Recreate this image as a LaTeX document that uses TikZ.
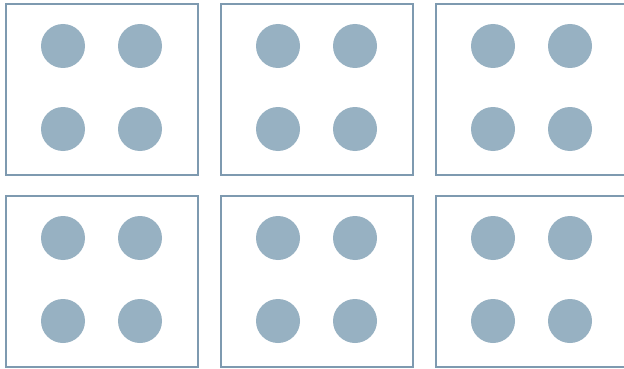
\documentclass[tikz,border=0pt]{standalone}
\definecolor{frame}{HTML}{7E9AB0}
\definecolor{dot}{HTML}{97B1C2}
\tikzset{
  cell/.style={draw=frame, line width=2pt, fill=white, minimum width=192pt, minimum height=171pt, inner sep=0pt, anchor=north west},
  blob/.style={circle, fill=dot, minimum size=44pt, inner sep=0pt}
}
\begin{document}
\begin{tikzpicture}[x=1pt,y=-1pt]
\useasboundingbox (0,0) rectangle (624,369);
\foreach \c in {0,1,2}{
  \foreach \r in {0,1}{
    \pgfmathsetmacro{\bx}{5+215*\c}
    \pgfmathsetmacro{\by}{3+192*\r}
    \node[cell] (box-\c-\r) at (\bx,\by) {};
    \node[blob] (d1-\c-\r) at (\bx+58,\by+43) {};
    \node[blob] (d2-\c-\r) at (\bx+135,\by+43) {};
    \node[blob] (d3-\c-\r) at (\bx+58,\by+126) {};
    \node[blob] (d4-\c-\r) at (\bx+135,\by+126) {};
  }
}
\end{tikzpicture}
\end{document}
